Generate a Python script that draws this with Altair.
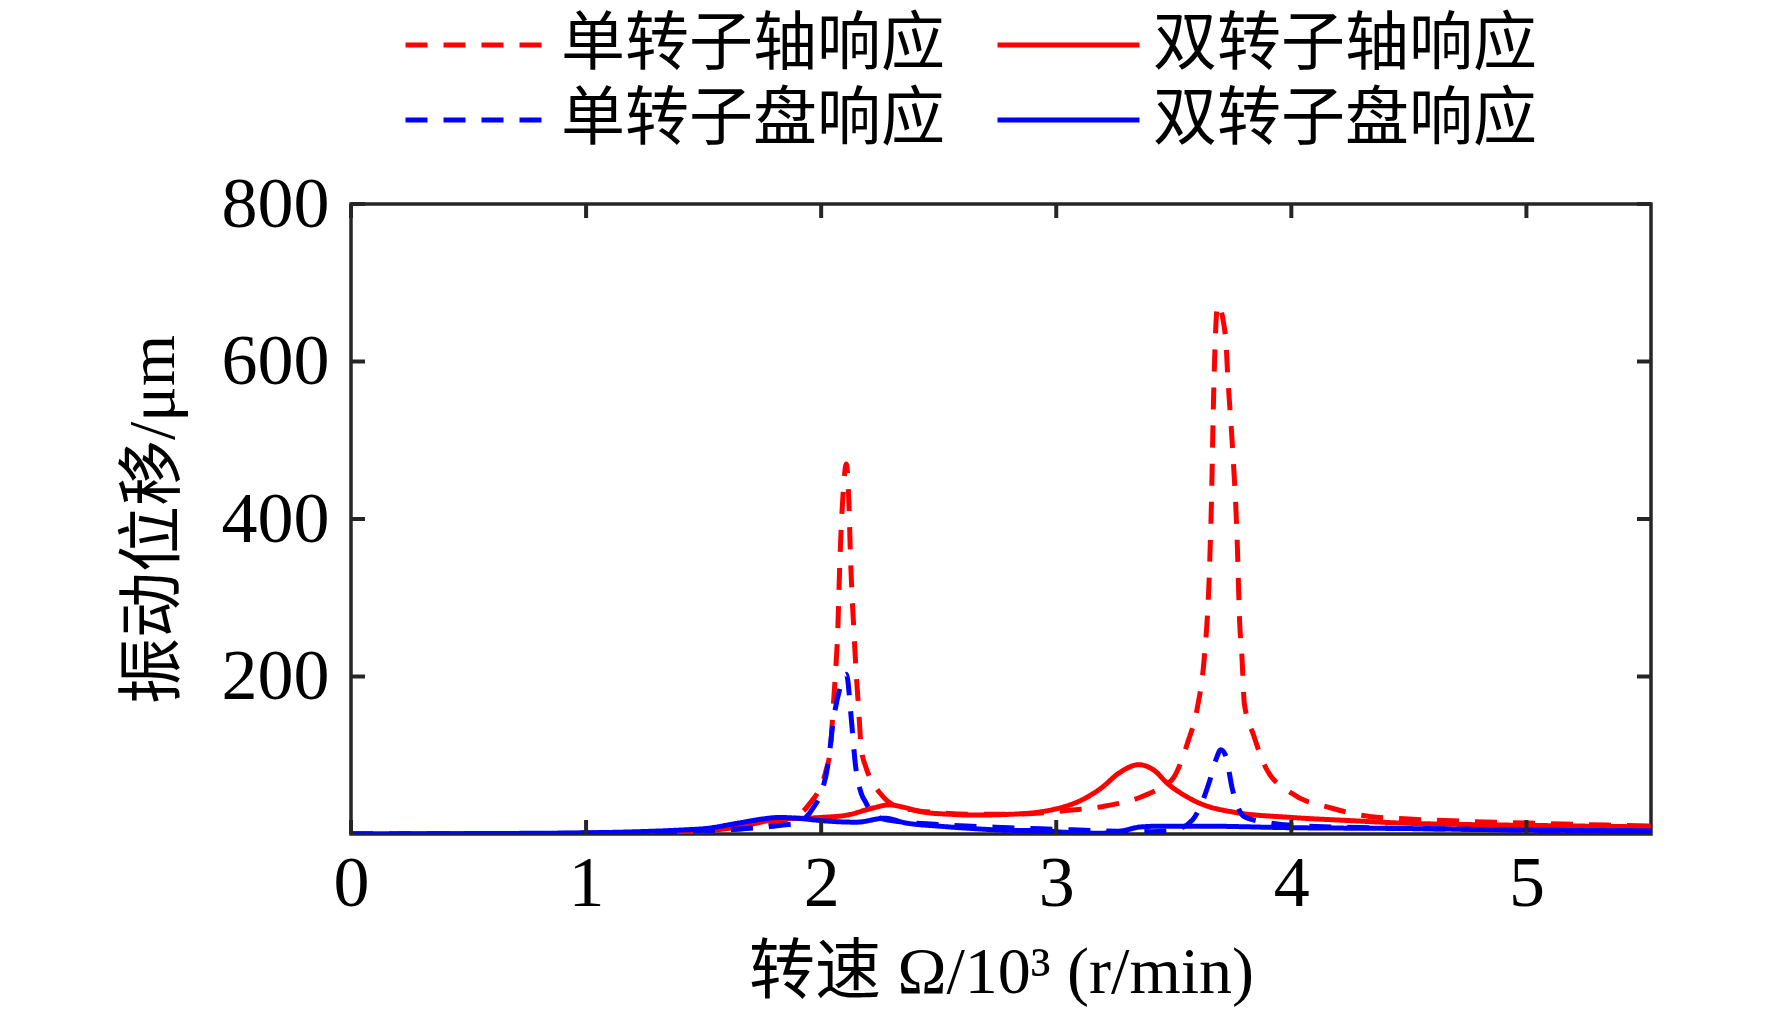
import altair as alt
import pandas as pd

series_names = ["单转子轴响应", "双转子轴响应", "单转子盘响应", "双转子盘响应"]
series_colors = ["#ff0000", "#ff0000", "#0000ff", "#0000ff"]
series_dash = [[22, 16], [1, 0], [22, 16], [1, 0]]

# 单转子轴响应 (red dashed)
ss_x = [0, 0.5, 1.0, 1.3, 1.5, 1.6, 1.7, 1.8, 1.88, 1.92, 1.96, 1.99, 2.02, 2.04, 2.05, 2.06,
        2.07, 2.08, 2.095, 2.107, 2.118, 2.125, 2.14, 2.15, 2.16, 2.17, 2.19, 2.22, 2.25, 2.3,
        2.4, 2.5, 2.65, 2.8, 2.95, 3.05, 3.2, 3.36, 3.45, 3.5, 3.56, 3.6, 3.63, 3.65, 3.66,
        3.67, 3.687, 3.72, 3.73, 3.75, 3.77, 3.78, 3.79, 3.8, 3.84, 3.89, 4.0, 4.17, 4.34,
        4.5, 4.75, 5.0, 5.25, 5.53]
ss_y = [0, 0.3, 1, 2, 4, 5, 8, 13, 22, 28, 42, 55, 80, 110, 156, 200,
        254, 350, 440, 470, 420, 350, 254, 200, 156, 110, 85, 65, 52, 38,
        30, 27, 25, 25, 27, 30, 35, 47, 60, 72, 117, 160, 225, 321, 419,
        564, 672, 632, 579, 490, 370, 270, 225, 166, 125, 85, 52, 33, 22,
        19, 16, 14, 12, 10]

# 双转子轴响应 (red solid)
ds_x = [0, 0.5, 1.0, 1.3, 1.5, 1.65, 1.82, 2.0, 2.11, 2.22, 2.29, 2.35, 2.43, 2.55, 2.64,
        2.8, 2.93, 3.0, 3.1, 3.19, 3.27, 3.35, 3.42, 3.47, 3.54, 3.61, 3.75, 4.0, 4.25,
        4.46, 4.75, 5.0, 5.25, 5.53]
ds_y = [0, 0.3, 1, 2, 4, 9, 19, 21, 24, 33, 37, 34, 28, 25, 24,
        25, 28, 32, 42, 58, 78, 88, 80, 65, 50, 39, 28, 21, 17,
        14, 12, 11, 10, 9]

# 单转子盘响应 (blue dashed)
sd_x = [0, 0.5, 1.0, 1.3, 1.5, 1.68, 1.83, 1.9, 1.97, 2.0, 2.03, 2.05, 2.08, 2.107, 2.13,
        2.145, 2.17, 2.19, 2.22, 2.3, 2.5, 2.8, 3.0, 3.2, 3.4, 3.5, 3.58, 3.62, 3.65, 3.68,
        3.70, 3.72, 3.75, 3.8, 3.89, 4.0, 4.5, 5.0, 5.53]
sd_y = [0, 0.3, 1, 2, 4, 7, 11, 14, 35, 52, 90, 140, 185, 203, 140,
        90, 52, 40, 25, 17, 12, 8, 6, 4, 3, 5, 18, 40, 65, 95,
        107, 100, 56, 22, 15, 11, 7, 5, 4]

# 双转子盘响应 (blue solid)
dd_x = [0, 0.5, 1.0, 1.23, 1.4, 1.51, 1.65, 1.75, 1.82, 1.9, 2.0, 2.15, 2.27, 2.36, 2.5,
        2.64, 2.76, 2.93, 3.05, 3.19, 3.28, 3.36, 3.45, 3.61, 4.0, 4.46, 5.0, 5.53]
dd_y = [0, 0.5, 1.5, 3, 5, 7, 14, 19, 21, 20, 17, 15, 20, 14, 10,
        7, 5, 4, 2, 1, 4, 9, 10, 10, 8, 7, 5, 4]

x_ticks = [0, 1, 2, 3, 4, 5]
y_ticks = [200, 400, 600, 800]

x_title = "转速 Ω/10³ (r/min)"
y_title = "振动位移/μm"

rows = []
for name, xs, ys in zip(series_names, [ss_x, ds_x, sd_x, dd_x], [ss_y, ds_y, sd_y, dd_y]):
    for i, (a, b) in enumerate(zip(xs, ys)):
        rows.append({"series": name, "speed": a, "disp": b, "order": i})
df = pd.DataFrame(rows)

FONT = "'Liberation Serif', 'Noto Sans CJK SC'"
AXC = "#262626"
W, H = 1300, 630

x_scale = alt.Scale(domain=[0, 5.53], nice=False, zero=False)
y_scale = alt.Scale(domain=[0, 800], nice=False)

legend = alt.Legend(
    title=None, orient="none", legendX=52, legendY=-194, columns=2, direction="horizontal",
    symbolType="stroke", symbolSize=20164, symbolStrokeWidth=5, clipHeight=70,
    labelFontSize=64, labelFont=FONT, labelColor="black", labelOffset=11,
    columnPadding=50, rowPadding=5, padding=0, labelLimit=0,
)

lines = alt.Chart(df).mark_line(strokeWidth=5, interpolate="monotone", clip=True).encode(
    x=alt.X("speed:Q", scale=x_scale, title=x_title,
            axis=alt.Axis(values=x_ticks, format="d", ticks=False, tickSize=0, domain=False, grid=False,
                          labelFlush=False,
                          labelFontSize=72, labelFont=FONT, labelColor="black", labelPadding=14,
                          titleFontSize=66, titleFont=FONT, titleColor="black", titleFontWeight="normal",
                          titleX=650, titleY=138, titleBaseline="middle", titleAlign="center")),
    y=alt.Y("disp:Q", scale=y_scale, title=y_title,
            axis=alt.Axis(values=y_ticks, ticks=False, tickSize=0, domain=False, grid=False,
                          labelFlush=False,
                          labelFontSize=72, labelFont=FONT, labelColor="black", labelPadding=22,
                          titleFontSize=66, titleFont=FONT, titleColor="black", titleFontWeight="normal",
                          titleX=-198, titleY=315, titleAngle=270, titleBaseline="middle",
                          titleAlign="center")),
    color=alt.Color("series:N", scale=alt.Scale(domain=series_names, range=series_colors),
                    legend=legend),
    strokeDash=alt.StrokeDash("series:N", scale=alt.Scale(domain=series_names, range=series_dash),
                              legend=legend),
    order="order:Q",
)

xt = pd.DataFrame({"t": x_ticks})
yt = pd.DataFrame({"v": y_ticks})
TL = 14
tick_style = dict(color=AXC, strokeWidth=4)

bottom_ticks = alt.Chart(xt).mark_rule(**tick_style).encode(
    x=alt.X("t:Q", scale=x_scale, title=x_title), y=alt.value(H), y2=alt.value(H - TL))
top_ticks = alt.Chart(xt).mark_rule(**tick_style).encode(
    x=alt.X("t:Q", scale=x_scale, title=x_title), y=alt.value(0), y2=alt.value(TL))
left_ticks = alt.Chart(yt).mark_rule(**tick_style).encode(
    y=alt.Y("v:Q", scale=y_scale, title=y_title), x=alt.value(0), x2=alt.value(TL))
right_ticks = alt.Chart(yt).mark_rule(**tick_style).encode(
    y=alt.Y("v:Q", scale=y_scale, title=y_title), x=alt.value(W), x2=alt.value(W - TL))

chart = alt.layer(lines, bottom_ticks, top_ticks, left_ticks, right_ticks).properties(
    width=W, height=H,
    autosize=alt.AutoSizeParams(type="none"),
    padding={"left": 343, "top": 196, "right": 100, "bottom": 177},
    background="white",
).configure_view(stroke=AXC, strokeWidth=3.5)

chart.save("out.html", embed_options={"renderer": "svg", "actions": False})
